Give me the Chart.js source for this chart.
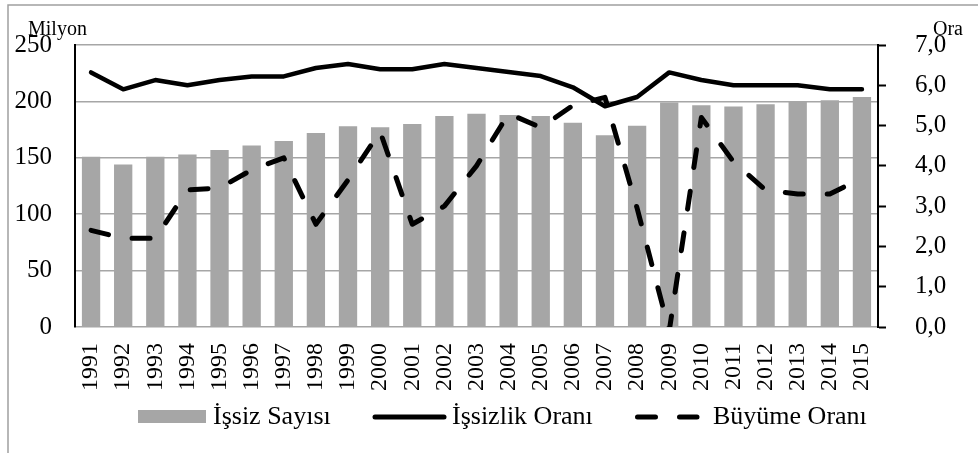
<!DOCTYPE html>
<html lang="tr">
<head>
<meta charset="utf-8">
<title>İşsiz Sayısı, İşsizlik Oranı ve Büyüme Oranı</title>
<script src="https://cdn.jsdelivr.net/npm/chart.js@4.4.1/dist/chart.umd.min.js"></script>
<style>
  html, body { margin: 0; padding: 0; background: #fff; }
  #wrap { width: 978px; height: 453px; }
</style>
</head>
<body>
<div id="wrap"><canvas id="chart" width="978" height="453"></canvas></div>
<script>
// values
const years = ['1991', '1992', '1993', '1994', '1995', '1996', '1997', '1998', '1999', '2000',
  '2001', '2002', '2003', '2004', '2005', '2006', '2007', '2008', '2009', '2010',
  '2011', '2012', '2013', '2014', '2015'];

// İşsiz Sayısı (milyon, sol eksen)
const unemployed = [151, 144, 151, 153, 157, 161, 165, 172, 178, 177,
  180, 187, 189, 188, 187, 181, 170, 178.5, 199, 196.5,
  195.5, 197.5, 200, 201, 204];

// İşsizlik Oranı (%, sağ eksen)
const unemploymentRate = [6.32, 5.9, 6.13, 6.0, 6.13, 6.22, 6.22, 6.43, 6.53, 6.4,
  6.4, 6.53, 6.43, 6.33, 6.23, 5.95, 5.48, 5.71, 6.32, 6.13,
  6.0, 6.0, 6.0, 5.9, 5.9];

// Büyüme Oranı (%, sağ eksen)
const growthRate = [2.4, 2.2, 2.2, 3.4, 3.45, 3.9, 4.2, 2.55, 3.65, 4.85,
  2.55, 3.0, 4.0, 5.3, 4.95, 5.5, 5.7, 2.95, -0.1, 5.2,
  4.1, 3.4, 3.3, 3.3, 3.7];

const leftTicks = { min: 0, max: 250, step: 50 };
const rightTicks = { min: 0, max: 7, step: 1 };

const SERIF = '"Liberation Serif", "Times New Roman", Times, serif';
const GRID = '#a6a6a6';
const BAR = '#a6a6a6';

// gray frame around the figure (left and top edges)
const framePlugin = {
  id: 'frame',
  beforeDraw(chart) {
    const ctx = chart.ctx;
    ctx.save();
    ctx.strokeStyle = '#a0a0a0';
    ctx.lineWidth = 1.5;
    ctx.beginPath();
    ctx.moveTo(8, chart.height);
    ctx.lineTo(8, 5);
    ctx.lineTo(chart.width, 5);
    ctx.stroke();
    ctx.restore();
  }
};

// axis unit captions
const unitsPlugin = {
  id: 'units',
  afterDraw(chart) {
    const ctx = chart.ctx;
    ctx.save();
    ctx.fillStyle = '#000';
    ctx.font = '20px ' + SERIF;
    ctx.textBaseline = 'alphabetic';
    ctx.textAlign = 'left';
    ctx.fillText('Milyon', 28, 35);
    ctx.fillText('Ora', 933, 35);
    ctx.restore();
  }
};

// legend at the bottom, drawn by hand to match the picture's item spacing
const legendPlugin = {
  id: 'bottomLegend',
  afterDraw(chart) {
    const ctx = chart.ctx;
    const ds = chart.data.datasets;
    const y = 417;
    ctx.save();
    ctx.font = '26px ' + SERIF;
    ctx.fillStyle = '#000';
    ctx.textBaseline = 'middle';
    ctx.textAlign = 'left';

    // bar item
    ctx.fillStyle = ds[0].backgroundColor;
    ctx.fillRect(138, 410, 68, 13);
    ctx.fillStyle = '#000';
    ctx.fillText(ds[0].label, 213, y);

    // solid line item
    ctx.strokeStyle = ds[1].borderColor;
    ctx.lineWidth = 5;
    ctx.lineCap = 'round';
    ctx.beginPath();
    ctx.moveTo(375, y);
    ctx.lineTo(444, y);
    ctx.stroke();
    ctx.fillText(ds[1].label, 452, y);

    // dashed line item
    ctx.setLineDash(ds[2].borderDash);
    ctx.beginPath();
    ctx.moveTo(637.5, y);
    ctx.lineTo(697, y);
    ctx.stroke();
    ctx.setLineDash([]);
    ctx.fillText(ds[2].label, 713, y);
    ctx.restore();
  }
};

const xFont = { family: SERIF, size: 24 };
const yFont = { family: SERIF, size: 25 };

new Chart(document.getElementById('chart'), {
  type: 'bar',
  data: {
    labels: years,
    datasets: [
      {
        type: 'bar',
        label: 'İşsiz Sayısı',
        data: unemployed,
        yAxisID: 'y',
        backgroundColor: BAR,
        barPercentage: 0.57,
        categoryPercentage: 1.0,
        order: 3
      },
      {
        type: 'line',
        label: 'İşsizlik Oranı',
        data: unemploymentRate,
        yAxisID: 'y1',
        borderColor: '#000',
        borderWidth: 4.5,
        borderJoinStyle: 'round',
        borderCapStyle: 'round',
        pointRadius: 0,
        tension: 0,
        fill: false,
        order: 1
      },
      {
        type: 'line',
        label: 'Büyüme Oranı',
        data: growthRate,
        yAxisID: 'y1',
        borderColor: '#000',
        borderWidth: 5,
        borderDash: [18, 24],
        borderJoinStyle: 'round',
        borderCapStyle: 'round',
        pointRadius: 0,
        tension: 0,
        fill: false,
        clip: 0,
        order: 2
      }
    ]
  },
  options: {
    responsive: false,
    animation: false,
    layout: { padding: { top: 45, left: 0, right: 0, bottom: 0 } },
    plugins: {
      legend: { display: false },
      tooltip: { enabled: false }
    },
    scales: {
      x: {
        offset: true,
        grid: { display: false, drawTicks: false },
        border: { display: false },
        ticks: {
          autoSkip: false,
          minRotation: 90,
          maxRotation: 90,
          padding: 16,
          color: '#000',
          font: xFont
        },
        afterFit(scale) { scale.height = 126; }
      },
      y: {
        position: 'left',
        min: leftTicks.min,
        max: leftTicks.max,
        ticks: {
          stepSize: leftTicks.step,
          padding: 23,
          color: '#000',
          font: yFont
        },
        grid: { color: GRID, lineWidth: 1.5, drawTicks: false },
        border: { color: '#000', width: 2 },
        afterFit(scale) { scale.width = 75; }
      },
      y1: {
        position: 'right',
        min: rightTicks.min,
        max: rightTicks.max,
        ticks: {
          stepSize: rightTicks.step,
          padding: 29,
          color: '#000',
          font: yFont,
          callback: v => v.toFixed(1).replace('.', ',')
        },
        grid: {
          drawOnChartArea: false,
          drawTicks: true,
          tickLength: 8,
          tickColor: '#000',
          tickWidth: 2
        },
        border: { color: '#000', width: 2 },
        afterFit(scale) { scale.width = 100; }
      }
    }
  },
  plugins: [framePlugin, unitsPlugin, legendPlugin]
});
</script>
</body>
</html>
